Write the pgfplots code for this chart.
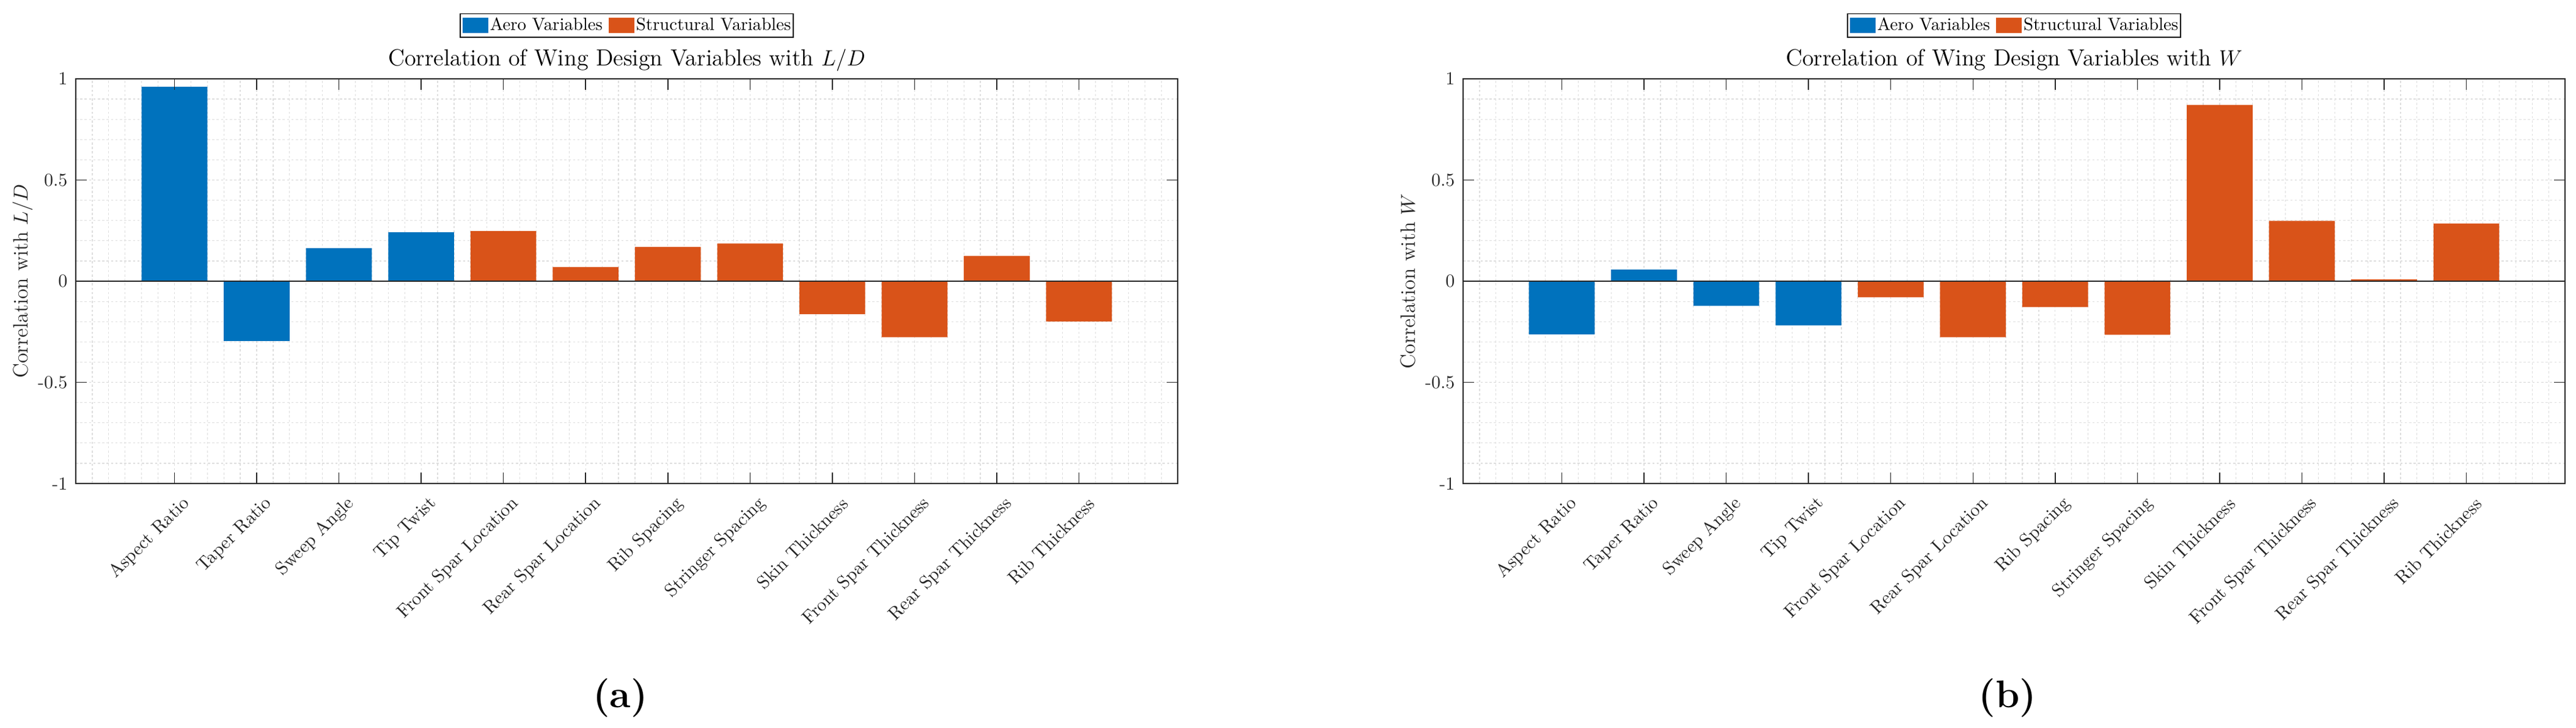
\documentclass[border=0pt]{standalone}
\usepackage{fontspec}
\usepackage{pgfplots}
\pgfplotsset{compat=1.18}
\definecolor{mblue}{rgb}{0,0.447,0.741}
\definecolor{morange}{rgb}{0.85,0.325,0.098}
\definecolor{axcol}{rgb}{0.15,0.15,0.15}
\pgfplotsset{
 layers/mylayers/.define layer set={axis background,axis grid,main,axis ticks,axis lines,axis tick labels,axis descriptions,axis foreground}{
   grid style={/pgfplots/on layer=axis grid},
   tick style={/pgfplots/on layer=axis ticks},
   axis line style={/pgfplots/on layer=axis lines},
   label style={/pgfplots/on layer=axis descriptions},
   legend style={/pgfplots/on layer=axis descriptions},
   title style={/pgfplots/on layer=axis descriptions},
   ticklabel style={/pgfplots/on layer=axis tick labels},
 },
 corr/.style={
   set layers=mylayers,
   width=601pt, height=220.67pt, scale only axis,
   anchor=south west,
   xmin=-1.2, xmax=12.2, ymin=-1, ymax=1,
   xtick={0,...,11},
   xticklabels={Aspect Ratio,Taper Ratio,Sweep Angle,Tip Twist,Front Spar Location,Rear Spar Location,Rib Spacing,Stringer Spacing,Skin Thickness,Front Spar Thickness,Rear Spar Thickness,Rib Thickness},
   minor xtick={-1.2,-1,-0.8,-0.6,-0.4,-0.2,0,0.2,0.4,0.6,0.8,1,1.2,1.4,1.6,1.8,2,2.2,2.4,2.6,2.8,3,3.2,3.4,3.6,3.8,4,4.2,4.4,4.6,4.8,5,5.2,5.4,5.6,5.8,6,6.2,6.4,6.6,6.8,7,7.2,7.4,7.6,7.8,8,8.2,8.4,8.6,8.8,9,9.2,9.4,9.6,9.8,10,10.2,10.4,10.6,10.8,11,11.2,11.4,11.6,11.8,12,12.2},
   ytick={-1,-0.5,0,0.5,1},
   yticklabels={-1,-0.5,0,0.5,1},
   minor y tick num=4,
   xmajorgrids=false, xminorgrids=true,
   ymajorgrids=true, yminorgrids=true,
   major grid style={black!16, dash pattern=on 1.2pt off 1.2pt, line width=0.4pt},
   minor grid style={black!13, dash pattern=on 1.2pt off 1.2pt, line width=0.4pt},
   major tick length=6pt, minor tick length=0pt,
   tick style={axcol, line width=0.5pt},
   axis line style={axcol, line width=0.6pt},
   tick label style={font=\fontsize{10}{12}\selectfont, text=axcol},
   yticklabel style={xshift=-1pt},
   xticklabel style={xshift=6.9pt, yshift=-9.3pt, rotate=45, anchor=east, inner sep=0pt},
   ylabel style={font=\fontsize{11.3}{13}\selectfont, at={(axis description cs:-0.0438,0.5)}, anchor=base, text=axcol},
   title style={font=\fontsize{12.7}{15}\selectfont, at={(axis description cs:0.5,1)}, anchor=base, yshift=1pt},
   legend style={at={(axis description cs:0.5,1.1012)}, anchor=south, legend columns=2,
     font=\fontsize{9.6}{11.5}\selectfont, draw=black, line width=0.5pt,
     inner xsep=1.3pt, inner ysep=2.3pt,
     nodes={inner sep=0pt},
     /tikz/every odd column/.append style={column sep=1pt},
     /tikz/every even column/.append style={column sep=3.3pt}},
   legend cell align=left,
 },
 cbar/.style={ybar, bar width=0.8, bar shift=0pt, draw=none, fill=#1,
   legend image code/.code={\fill[#1] (0pt,-4.15pt) rectangle (14pt,4.15pt);}},
}
\begin{document}
\begin{tikzpicture}
\begin{axis}[corr, at={(41.33pt,133pt)},
  ylabel={Correlation with $L/D$},
  title={Correlation of Wing Design Variables with $L/D$}]
\addplot[cbar=mblue] coordinates {(0,0.961) (1,-0.296) (2,0.163) (3,0.242)};
\addlegendentry{Aero Variables}
\addplot[cbar=morange] coordinates {(4,0.248) (5,0.070) (6,0.169) (7,0.186) (8,-0.163) (9,-0.277) (10,0.125) (11,-0.199)};
\addlegendentry{Structural Variables}
\draw[axcol, line width=0.6pt] (axis cs:-1.2,0) -- (axis cs:12.2,0);
\end{axis}
\begin{axis}[corr, at={(798pt,133pt)},
  ylabel={Correlation with $W$},
  title={Correlation of Wing Design Variables with $W$}]
\addplot[cbar=mblue] coordinates {(0,-0.263) (1,0.057) (2,-0.122) (3,-0.219)};
\addlegendentry{Aero Variables}
\addplot[cbar=morange] coordinates {(4,-0.080) (5,-0.277) (6,-0.128) (7,-0.265) (8,0.871) (9,0.298) (10,0.009) (11,0.285)};
\addlegendentry{Structural Variables}
\draw[axcol, line width=0.6pt] (axis cs:-1.2,0) -- (axis cs:12.2,0);
\end{axis}
\node[anchor=base, font=\fontsize{21}{25}\selectfont\bfseries] at (338.3pt,10.8pt) {(a)};
\node[anchor=base, font=\fontsize{21}{25}\selectfont\bfseries] at (1095pt,10.8pt) {(b)};
\pgfresetboundingbox
\useasboundingbox (0,0) rectangle (1405pt,396.67pt);
\end{tikzpicture}
\end{document}
